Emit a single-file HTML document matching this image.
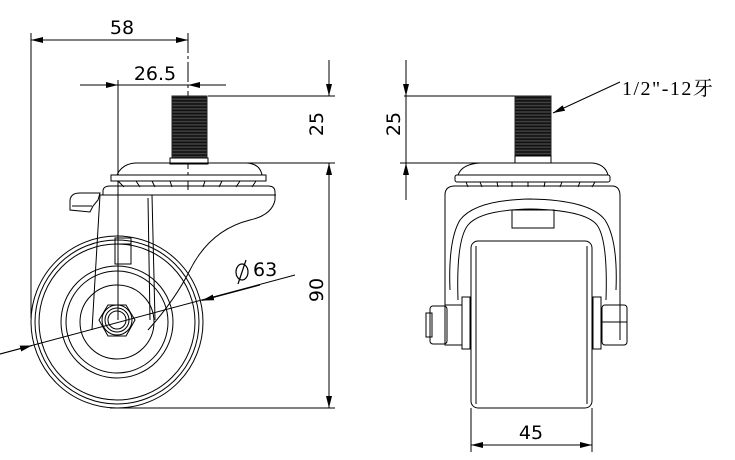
<!DOCTYPE html>
<html><head><meta charset="utf-8"><style>html,body{margin:0;padding:0;background:#fff}svg{display:block}</style></head>
<body>
<svg width="735" height="460" viewBox="0 0 735 460" xmlns="http://www.w3.org/2000/svg" font-family="DejaVu Sans, Liberation Sans, sans-serif">
<defs>
<marker id="a" viewBox="0 0 12 6" refX="12" refY="3" markerWidth="12" markerHeight="6" orient="auto-start-reverse" markerUnits="userSpaceOnUse"><path d="M0,0L12,3L0,6z" fill="#000"/></marker>
<pattern id="th" width="4" height="3.2" patternUnits="userSpaceOnUse"><rect width="4" height="3.2" fill="#444"/><line x1="0" y1="1.6" x2="4" y2="1.6" stroke="#111" stroke-width="1.8"/></pattern>
</defs>
<g fill="none" stroke="#000" stroke-width="1">
<line x1="31" y1="33" x2="31" y2="318"/>
<line x1="188" y1="33" x2="188" y2="190" stroke-dasharray="20,3,3,3"/>
<line x1="31" y1="40" x2="188" y2="40" marker-start="url(#a)" marker-end="url(#a)"/>
<line x1="80" y1="85" x2="118" y2="85" marker-end="url(#a)"/>
<line x1="226" y1="85" x2="188" y2="85" marker-end="url(#a)"/>
<line x1="118" y1="85" x2="226" y2="85"/>
<line x1="118" y1="80" x2="118" y2="320"/>
<line x1="208" y1="96" x2="335" y2="96"/>
<line x1="222" y1="163" x2="335" y2="163"/>
<line x1="110" y1="408" x2="335" y2="408"/>
<line x1="329" y1="60" x2="329" y2="96" marker-end="url(#a)"/>
<line x1="329" y1="200" x2="329" y2="163" marker-end="url(#a)"/>
<line x1="329" y1="200" x2="329" y2="408" marker-end="url(#a)"/>
<rect x="172" y="96" width="35" height="64" fill="url(#th)" stroke="#222"/>
<rect x="170" y="158" width="38" height="6" fill="#fff"/>
<path d="M117,175 Q122,164 135,163 L247,163 Q260,164 262,175"/>
<rect x="111" y="175" width="155" height="6" fill="#fff"/>
<path d="M118,181 L124,187 M136,181 L140,187 M152,181 L155,187 M170,181 L172,187 M188,181 L188,187 M205,181 L203,187 M222,181 L219,187 M240,181 L236,187 M256,181 L252,187"/>
<path d="M103,195 L103,190 Q104,186 110,186 L268,186 Q275,186 275,192 L275,200"/>
<line x1="100" y1="195" x2="276" y2="195"/>
<path d="M70,210 L70,200 Q71,193 80,193 L100,193 L98,200 L93,206 L90,212 Z"/>
<line x1="72" y1="206" x2="92" y2="206"/>
<path d="M100,195 L92,330"/>
<path d="M152,195 L155,320"/>
<path d="M148,198 L150,320"/>
<path d="M275,200 Q272,215 250,220 Q210,230 190,270 Q175,300 148,330"/>
<rect x="115" y="238" width="16" height="26"/>
<line x1="115" y1="244" x2="131" y2="244"/>
<circle cx="117" cy="322" r="86"/>
<circle cx="117" cy="322" r="82"/>
<circle cx="117" cy="322" r="78"/>
<circle cx="117" cy="322" r="56"/>
<circle cx="117" cy="322" r="51"/>
<circle cx="117" cy="322" r="37"/>
<polygon points="135,320 126,305 108,305 99,320 108,336 126,336"/>
<circle cx="117" cy="320" r="15"/>
<circle cx="117" cy="320" r="12"/>
<circle cx="117" cy="320" r="9"/>
<line x1="0" y1="354" x2="295" y2="275"/>
<line x1="0" y1="354" x2="32" y2="345.5" marker-end="url(#a)"/>
<line x1="260" y1="285" x2="202" y2="300.5" marker-end="url(#a)"/>
<line x1="406" y1="60" x2="406" y2="96" marker-end="url(#a)"/>
<line x1="406" y1="200" x2="406" y2="163" marker-end="url(#a)"/>
<line x1="406" y1="96" x2="406" y2="163"/>
<line x1="404" y1="96" x2="515" y2="96"/>
<line x1="400" y1="163" x2="500" y2="163"/>
<rect x="515" y="96" width="36" height="62" fill="url(#th)" stroke="#222"/>
<rect x="515" y="156" width="36" height="7" fill="#fff"/>
<line x1="620" y1="82" x2="553" y2="113" marker-end="url(#a)"/>
<path d="M458,175 Q462,164 480,163 L592,163 Q605,164 608,175"/>
<rect x="455" y="175" width="155" height="7" rx="2" fill="#fff"/>
<path d="M466,182 L468,187 M480,182 L482,187 M497,182 L498,187 M512,182 L512,187 M528,182 L528,187 M545,182 L544,187 M562,182 L560,187 M580,182 L578,187 M595,182 L592,187"/>
<path d="M445,340 L445,195 Q445,186 455,186 L612,186 Q620,186 620,196 L620,340"/>
<path d="M450,290 Q448,240 460,220 Q475,200 530,199 Q590,200 605,220 Q618,240 616,290"/>
<path d="M458,300 Q456,240 468,225 Q480,210 530,209 Q585,210 597,225 Q608,240 606,300"/>
<rect x="512" y="210" width="42" height="18"/>
<rect x="471" y="241" width="121" height="167" rx="7" fill="#fff"/>
<line x1="476" y1="246" x2="476" y2="404"/>
<line x1="587" y1="246" x2="587" y2="404"/>
<rect x="462" y="297" width="8" height="52"/>
<rect x="593" y="297" width="8" height="52"/>
<rect x="445" y="305" width="17" height="40"/>
<rect x="430" y="306" width="17" height="38" rx="3"/>
<rect x="426" y="313" width="6" height="24"/>
<rect x="602" y="305" width="25" height="40" rx="3"/>
<line x1="602" y1="322" x2="627" y2="322"/>
<line x1="471" y1="408" x2="471" y2="452"/>
<line x1="592" y1="408" x2="592" y2="452"/>
<line x1="471" y1="445" x2="592" y2="445" marker-start="url(#a)" marker-end="url(#a)"/>
</g>
<g fill="#000" font-size="19">
<text x="122" y="34" text-anchor="middle">58</text>
<text x="155" y="80" text-anchor="middle">26.5</text>
<text x="531" y="439" text-anchor="middle">45</text>
<text transform="translate(323,124) rotate(-90)" text-anchor="middle">25</text>
<text transform="translate(400,124) rotate(-90)" text-anchor="middle">25</text>
<text transform="translate(323,290) rotate(-90)" text-anchor="middle">90</text>
<text x="253" y="276">63</text>
<text x="622" y="95" font-family="Liberation Serif, Noto Serif CJK SC, serif" font-size="20" letter-spacing="1.5">1/2"-12牙</text>
</g>
<g fill="none" stroke="#000" stroke-width="1.2"><ellipse cx="242" cy="272" rx="6" ry="8"/><line x1="238" y1="284" x2="246" y2="260"/></g>
</svg>
</body></html>
